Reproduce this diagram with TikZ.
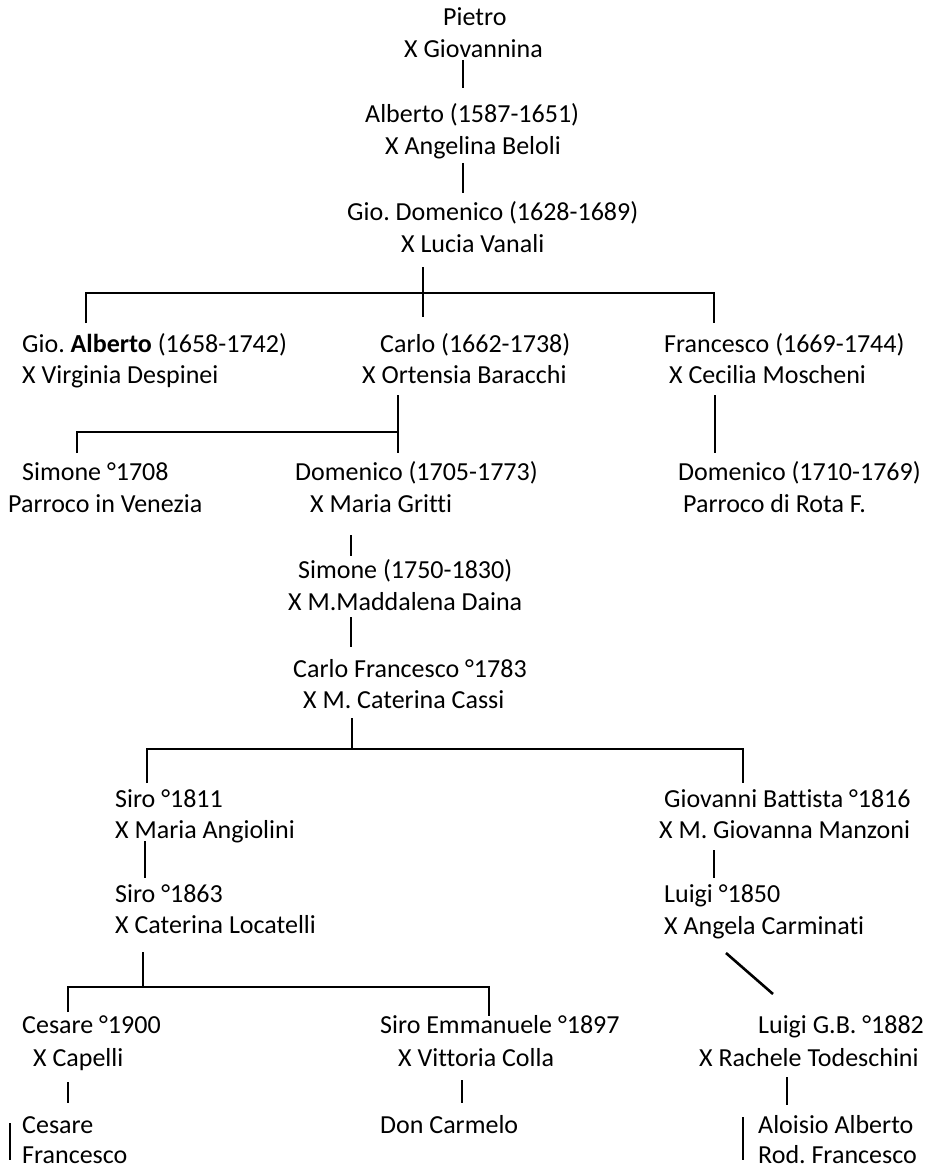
\documentclass[tikz,border=0pt]{standalone}
\usepackage{fontspec}
\setmainfont{Carlito}[Ligatures=CommonOff]
\frenchspacing
\begin{document}
\begin{tikzpicture}[x=1pt, y=-1pt,
  person/.style={anchor=base west, inner sep=0pt, font=\fontsize{26}{31}\selectfont},
  link/.style={draw=black, line width=2.6pt}]
\useasboundingbox (0,0) rectangle (933,1169);

% ---------- generations 1-3 ----------
\node[person] (pietro)   at (443,26)  {Pietro};
\node[person] (pietroX)  at (404,58)  {X Giovannina};
\node[person] (alberto)  at (365,123) {Alberto (1587-1651)};
\node[person] (albertoX) at (385,155) {X Angelina Beloli};
\node[person] (giodom)   at (347,220) {Gio. Domenico (1628-1689)};
\node[person] (giodomX)  at (401,252) {X Lucia Vanali};

% ---------- generation 4 ----------
\node[person] (gioalb)   at (22,352)  {Gio. \textbf{Alberto} (1658-1742)};
\node[person] (gioalbX)  at (22,383)  {X Virginia Despinei};
\node[person] (carlo)    at (380,352) {Carlo (1662-1738)};
\node[person] (carloX)   at (362,383) {X Ortensia Baracchi};
\node[person] (franc)    at (664,352) {Francesco (1669-1744)};
\node[person] (francX)   at (669,383) {X Cecilia Moscheni};

% ---------- generation 5 ----------
\node[person] (simone)   at (22,480)  {Simone °1708};
\node[person] (simoneP)  at (8,512)   {Parroco in Venezia};
\node[person] (domen)    at (295,480) {Domenico (1705-1773)};
\node[person] (domenX)   at (310,512) {X Maria Gritti};
\node[person] (domrota)  at (678,480) {Domenico (1710-1769)};
\node[person] (domrotaP) at (683,512) {Parroco di Rota F.};

% ---------- generations 6-7 ----------
\node[person] (simone2)  at (298,578) {Simone (1750-1830)};
\node[person] (simone2X) at (288,610) {X M.Maddalena Daina};
\node[person] (carlof)   at (293,677) {Carlo Francesco °1783};
\node[person] (carlofX)  at (303,708) {X M. Caterina Cassi};

% ---------- generations 8-9 ----------
\node[person] (siro1)    at (115,807) {Siro °1811};
\node[person] (siro1X)   at (115,838) {X Maria Angiolini};
\node[person] (siro2)    at (115,902) {Siro °1863};
\node[person] (siro2X)   at (115,933) {X Caterina Locatelli};
\node[person] (giobatt)  at (664,807) {Giovanni Battista °1816};
\node[person] (giobattX) at (659,838) {X M. Giovanna Manzoni};
\node[person] (luigi)    at (664,902) {Luigi °1850};
\node[person] (luigiX)   at (664,934) {X Angela Carminati};

% ---------- generation 10 ----------
\node[person] (cesare)   at (22,1033)  {Cesare °1900};
\node[person] (cesareX)  at (33,1066)  {X Capelli};
\node[person] (siroem)   at (380,1033) {Siro Emmanuele °1897};
\node[person] (siroemX)  at (398,1066) {X Vittoria Colla};
\node[person] (luigigb)  at (758,1033) {Luigi G.B. °1882};
\node[person] (luigigbX) at (699,1066) {X Rachele Todeschini};

% ---------- generation 11 ----------
\node[person] (cesare2)  at (22,1133)  {Cesare};
\node[person] (cesare2b) at (22,1163)  {Francesco};
\node[person] (carmelo)  at (380,1133) {Don Carmelo};
\node[person] (aloisio)  at (758,1133) {Aloisio Alberto};
\node[person] (aloisiob) at (758,1163) {Rod. Francesco};

% ---------- connector end points ----------
\coordinate (p1a) at (463,60);   \coordinate (p1b) at (463,88);
\coordinate (p2a) at (463,163);  \coordinate (p2b) at (463,193);
\coordinate (p3a) at (423,267);  \coordinate (p3m) at (423,293);  \coordinate (p3b) at (423,317);
\coordinate (p3l) at (86,323);   \coordinate (p3r) at (714,323);
\coordinate (p4a) at (398,395);  \coordinate (p4m) at (398,432);  \coordinate (p4b) at (398,453);
\coordinate (p4l) at (77,453);
\coordinate (p5a) at (715,395);  \coordinate (p5b) at (715,453);
\coordinate (p6a) at (351,535);  \coordinate (p6b) at (351,556);
\coordinate (p7a) at (351,617);  \coordinate (p7b) at (351,647);
\coordinate (p8a) at (352,718);  \coordinate (p8m) at (352,749);
\coordinate (p8l) at (147,783);  \coordinate (p8r) at (743,783);
\coordinate (p9a) at (145,841);  \coordinate (p9b) at (145,878);
\coordinate (p10a) at (714,850); \coordinate (p10b) at (714,878);
\coordinate (p11a) at (726,953); \coordinate (p11b) at (773,994);
\coordinate (p12a) at (143,952); \coordinate (p12m) at (143,987);
\coordinate (p12l) at (68,1012); \coordinate (p12r) at (489,1016);
\coordinate (p13a) at (68,1082); \coordinate (p13b) at (68,1103);
\coordinate (p14a) at (462,1080); \coordinate (p14b) at (462,1103);
\coordinate (p15a) at (787,1077); \coordinate (p15b) at (787,1105);
\coordinate (p16a) at (10,1123);  \coordinate (p16b) at (10,1160);
\coordinate (p17a) at (743,1117); \coordinate (p17b) at (743,1160);

% ---------- connectors ----------
\path[link] (p1a) -- (p1b);
\path[link] (p2a) -- (p2b);
\path[link] (p3a) -- (p3b);
\path[link] (p3l) |- (p3m) -| (p3r);
\path[link] (p4a) -- (p4b);
\path[link] (p4l) |- (p4m);
\path[link] (p5a) -- (p5b);
\path[link] (p6a) -- (p6b);
\path[link] (p7a) -- (p7b);
\path[link] (p8a) -- (p8m);
\path[link] (p8l) |- (p8m) -| (p8r);
\path[link] (p9a) -- (p9b);
\path[link] (p10a) -- (p10b);
\path[link] (p11a) -- (p11b);
\path[link] (p12a) -- (p12m);
\path[link] (p12l) |- (p12m) -| (p12r);
\path[link] (p13a) -- (p13b);
\path[link] (p14a) -- (p14b);
\path[link] (p15a) -- (p15b);
\path[link] (p16a) -- (p16b);
\path[link] (p17a) -- (p17b);
\end{tikzpicture}
\end{document}
